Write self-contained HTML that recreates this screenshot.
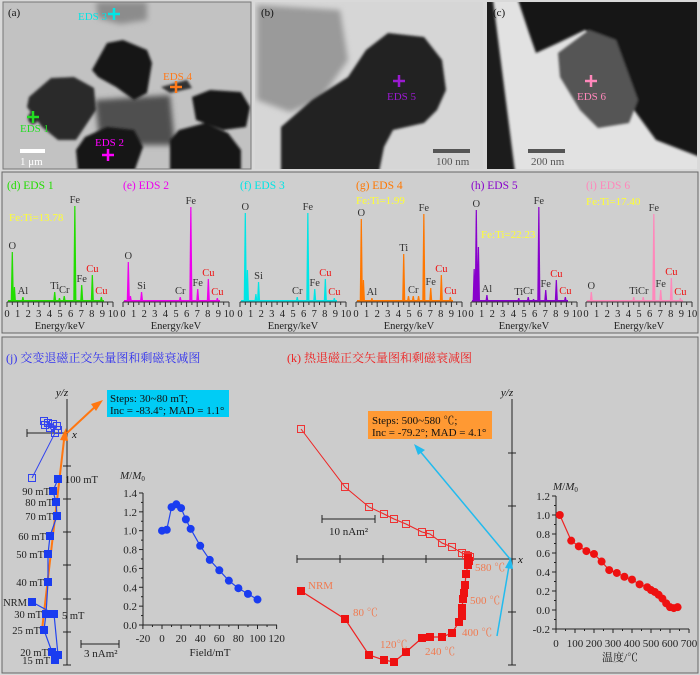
<!DOCTYPE html>
<html><head><meta charset="utf-8">
<style>
html,body{margin:0;padding:0;background:#d9d9d9;}
svg{display:block;font-family:"Liberation Serif","Noto Serif CJK SC","Noto Sans CJK SC",serif;}
</style></head>
<body>
<svg id="s" width="700" height="675" xmlns="http://www.w3.org/2000/svg">
<defs>
<filter id="bl" x="-10%" y="-10%" width="120%" height="120%"><feGaussianBlur stdDeviation="1.2"/></filter>
<filter id="bl2"><feGaussianBlur stdDeviation="3"/></filter>
<clipPath id="ca"><rect x="3" y="2" width="248" height="167"/></clipPath>
<clipPath id="cb"><rect x="255" y="2" width="228" height="167"/></clipPath>
<clipPath id="cc"><rect x="487" y="2" width="210" height="167"/></clipPath>
</defs>
<rect x="0" y="0" width="700" height="675" fill="#d9d9d9"/>
<!-- panel a -->
<g clip-path="url(#ca)">
<rect x="3" y="2" width="248" height="167" fill="#c2c2c2"/>
<g filter="url(#bl2)"><polygon points="96,2 147,2 147,20 120,24 98,18" fill="#8c8c8c"/>
<polygon points="95,100 170,95 175,145 100,145" fill="#505050"/></g>
<g filter="url(#bl)" fill="#141414">
<polygon points="29,97 51,78 74,77 94,88 96,110 76,140 58,140 42,127 27,107" fill="#2a2a2a"/>
<polygon points="92,70 107,43 123,40 147,50 152,63 147,93 134,100 116,87 98,77"/>
<polygon points="76,150 85,137 107,127 134,130 143,147 134,172 78,172"/>
<polygon points="170,140 179,130 205,123 228,133 241,150 241,172 170,172"/>
<polygon points="192,97 210,90 241,92 250,107 246,127 223,130 196,120"/>
<polygon points="161,87 187,80 192,88 170,93" fill="#333"/>
<ellipse cx="33" cy="118" rx="5" ry="6" fill="#2a2a2a"/>
</g>
</g>
<rect x="3" y="2" width="248" height="167" fill="none" stroke="#777" stroke-width="1"/>
<!-- panel b -->
<g clip-path="url(#cb)">
<rect x="255" y="2" width="228" height="167" fill="#d6d6d6"/>
<g filter="url(#bl2)"><polygon points="257,5 340,10 348,60 320,100 290,112 257,100" fill="#9a9a9a"/></g>
<g filter="url(#bl)"><polygon points="281,127 312,100 348,77 366,50 388,33 424,37 442,60 446,90 437,110 424,123 393,130 384,147 379,172 281,172" fill="#222"/></g>
</g>
<!-- panel c -->
<g clip-path="url(#cc)">
<rect x="487" y="2" width="210" height="167" fill="#e2e2e2"/>
<g filter="url(#bl)">
<polygon points="480,0 493,0 515,172 480,172" fill="#1a1a1a"/>
<polygon points="518,0 700,0 700,157 656,140 634,110 625,83 616,50 585,30 558,43 536,53 529,33" fill="#141414"/>
<polygon points="558,53 589,30 616,40 638,100 629,123 598,128 580,110 560,77" fill="#555"/>
</g>
</g>
<g id="g"></g>
</svg>
<script>
var o='';
function T(x,y,t,c,fs,a,extra){o+='<text x="'+x+'" y="'+y+'" fill="'+c+'" font-size="'+fs+'"'+(a?' text-anchor="'+a+'"':'')+(extra||'')+'>'+t+'</text>';}
function L(x1,y1,x2,y2,c,w){o+='<line x1="'+x1+'" y1="'+y1+'" x2="'+x2+'" y2="'+y2+'" stroke="'+c+'" stroke-width="'+(w||1)+'"/>';}
function P(pts,c,w){o+='<polyline points="'+pts.map(p=>p.join(',')).join(' ')+'" fill="none" stroke="'+c+'" stroke-width="'+(w||1)+'"/>';}
function plus(x,y,c){L(x-6,y,x+6,y,c,2.5);L(x,y-6,x,y+6,c,2.5);}
T(8,16,'(a)','#111',11);T(261,16,'(b)','#111',11);T(493,16,'(c)','#111',11);
plus(114,14,'#00e5e5');T(78,20,'EDS 3','#00e5e5',11);
plus(176,87,'#ff7a1a');T(163,80,'EDS 4','#ff7a1a',11);
plus(33,117,'#22dd22');T(20,132,'EDS 1','#22dd22',11);
plus(108,155,'#ff00ff');T(95,146,'EDS 2','#ff00ff',11);
plus(399,81,'#9a1ad0');T(387,100,'EDS 5','#9a1ad0',11);
plus(591,81,'#ff88bb');T(577,100,'EDS 6','#ff88bb',11);
o+='<rect x="20" y="149" width="25" height="4" fill="#fff"/>';T(20,165,'1 μm','#fff',11);
o+='<rect x="433" y="149" width="37" height="4" fill="#555"/>';T(436,165,'100 nm','#555',11);
o+='<rect x="528" y="149" width="37" height="4" fill="#555"/>';T(531,165,'200 nm','#555',11);
o+='<rect x="2" y="172" width="696" height="161" fill="#cfcfcf" stroke="#666"/>';
var specs=[
{x:7,c:'#22dd00',t:'(d) EDS 1',r:'Fe:Ti=13.78',rx:9,ry:221,p:[[0.5,50,'O'],[0.7,15],[1.5,5,'Al'],[4.5,10,'Ti'],[4.95,4],[5.4,6,'Cr'],[6.4,96,'Fe'],[7.05,17,'Fe'],[8.05,27,'Cu'],[8.9,5,'Cu']]},
{x:123,c:'#ee00ee',t:'(e) EDS 2',p:[[0.5,40,'O'],[0.7,6],[1.75,10,'Si'],[5.4,5,'Cr'],[6.4,95,'Fe'],[7.05,13,'Fe'],[8.05,23,'Cu'],[8.9,4,'Cu']]},
{x:240,c:'#00e5e5',t:'(f) EDS 3',p:[[0.5,89,'O'],[0.7,32],[1.75,20,'Si'],[1.5,8],[5.4,5,'Cr'],[6.4,89,'Fe'],[7.05,13,'Fe'],[8.05,23,'Cu'],[8.9,4,'Cu']]},
{x:356,c:'#ff7700',t:'(g) EDS 4',r:'Fe:Ti=1.99',rx:356,ry:204,p:[[0.5,83,'O'],[0.7,22],[1.5,4,'Al'],[4.5,48,'Ti'],[4.95,6],[5.4,6,'Cr'],[5.9,6],[6.4,88,'Fe'],[7.05,14,'Fe'],[8.05,27,'Cu'],[8.9,5,'Cu']]},
{x:471,c:'#8800cc',t:'(h) EDS 5',r:'Fe:Ti=22.23',rx:481,ry:238,p:[[0.3,33],[0.5,92,'O'],[0.7,55],[1.5,7,'Al'],[4.5,4,'Ti'],[5.4,5,'Cr'],[5.9,3],[6.4,95,'Fe'],[7.05,12,'Fe'],[8.05,22,'Cu'],[8.9,5,'Cu']]},
{x:586,c:'#ff88bb',t:'(i) EDS 6',r:'Fe:Ti=17.40',rx:586,ry:205,p:[[0.5,10,'O'],[4.5,5,'Ti'],[5.4,5,'Cr'],[6.4,88,'Fe'],[7.05,12,'Fe'],[8.05,24,'Cu'],[8.9,4,'Cu']]}];
var B=302,W=106;
specs.forEach(function(s){
 T(s.x,189,s.t,s.c,11.5);
 if(s.r)T(s.rx,s.ry,s.r,'#ffff33',11);
 o+='<rect x="'+(s.x+1)+'" y="'+(B-2)+'" width="'+(W-10)+'" height="2" fill="'+s.c+'"/>';
 s.p.forEach(function(p){var px=s.x+p[0]/10*W;
  o+='<polygon points="'+(px-1.6)+','+B+' '+(px-0.6)+','+(B-p[1])+' '+(px+0.6)+','+(B-p[1])+' '+(px+1.6)+','+B+'" fill="'+s.c+'"/>';
  if(p[2]){var col=p[2]=='Cu'?'#ee1111':'#333';T(px,B-p[1]-3,p[2],col,10.5,'middle');}
 });
 L(s.x,B,s.x+W,B,'#333',1);
 for(var k=0;k<=20;k++){var tx=s.x+k/20*W;L(tx,B,tx,B+(k%2?3:5),'#333',1);}
 for(var k=0;k<=10;k++){T(s.x+k/10*W,317,k,'#222',10.5,'middle');}
 T(s.x+W/2,329,'Energy/keV','#222',10.5,'middle');
});
o+='<rect x="2" y="337" width="696" height="336" fill="#cccccc" stroke="#666"/>';
T(6,362,'(j) 交变退磁正交矢量图和剩磁衰减图','#3333ee',12);
T(287,362,'(k) 热退磁正交矢量图和剩磁衰减图','#ee2222',12);
L(67,399,67,665,'#222');L(27,433,67,433,'#222');L(27,429,27,437,'#222');
[466,499,532,565,599,632,665].forEach(function(y){L(63,y,71,y,'#222');});
T(62,396,'y/z','#111',11,'middle',' font-style="italic"');T(72,438,'x','#111',11,null,' font-style="italic"');
var op=[[32,478],[55,433],[50,428],[57,426],[45,425],[53,424],[48,423],[58,430],[44,421]];
P(op,'#3344ee',1);op.forEach(function(p){o+='<rect x="'+(p[0]-3.5)+'" y="'+(p[1]-3.5)+'" width="7" height="7" fill="none" stroke="#3344ee"/>';});
L(42,630,64,440,'#ff7711',2);o+='<polygon points="60,440 66,428 68,441" fill="#ff7711"/>';
L(67,433,97,405,'#ff7711',2);o+='<polygon points="91,404 103,400 96,411" fill="#ff7711"/>';
var fp=[[32,602],[54,614],[58,655],[55,660],[52,652],[44,630],[46,614],[48,582],[48,554],[50,536],[57,516],[56,502],[53,491],[58,479]];
P(fp,'#2244ee',1.2);fp.forEach(function(p){o+='<rect x="'+(p[0]-4)+'" y="'+(p[1]-4)+'" width="8" height="8" fill="#1a3cf0"/>';});
[['100 mT',65,483,'start'],['90 mT',50,495,'end'],['80 mT',53,506,'end'],['70 mT',53,520,'end'],['60 mT',46,540,'end'],['50 mT',44,558,'end'],['40 mT',44,586,'end'],['NRM',27,606,'end'],['30 mT',42,618,'end'],['5 mT',62,619,'start'],['25 mT',40,634,'end'],['20 mT',48,656,'end'],['15 mT',50,664,'end']].forEach(function(l){T(l[1],l[2],l[0],'#222',10.5,l[3]);});
o+='<rect x="107" y="390" width="122" height="27" fill="#00ccf5"/>';
T(110,402,'Steps: 30~80 mT;','#111',11);T(110,414,'Inc = -83.4°; MAD = 1.1°','#111',11);
L(81,644,119,644,'#222');L(81,640,81,648,'#222');L(119,640,119,648,'#222');T(84,657,'3 nAm²','#222',11);
L(143,493,143,625,'#222');L(143,625,277,625,'#222');
for(var i=0;i<=7;i++){var y=625-i*18.86;L(139,y,143,y,'#222');T(137,y+4,(i*0.2).toFixed(1),'#222',11,'end');if(i<7)L(141,y-9.43,143,y-9.43,'#222');}
for(var f=-20;f<=120;f+=20){var x=162+f*0.955;L(x,625,x,629,'#222');T(x,642,f,'#222',11,'middle');if(f<120)L(x+9.55,625,x+9.55,627,'#222');}
T(210,656,'Field/mT','#222',11,'middle');
T(120,479,'<tspan font-style="italic">M</tspan>/<tspan font-style="italic">M</tspan><tspan font-size="7" dy="2">0</tspan>','#222',11);
var dj=[[0,1.0],[5,1.01],[10,1.25],[15,1.28],[20,1.24],[25,1.12],[30,1.02],[40,0.84],[50,0.69],[60,0.58],[70,0.47],[80,0.39],[90,0.33],[100,0.27]].map(p=>[162+p[0]*0.955,625-p[1]*94.3]);
P(dj,'#2244ee',1.2);dj.forEach(p=>{o+='<circle cx="'+p[0]+'" cy="'+p[1]+'" r="4" fill="#1a3cf0"/>';});
L(512,399,512,665,'#222');L(297,559,512,559,'#222');
[453,506,559,612,665].forEach(function(y){L(508,y,516,y,'#222');});
[297,340,383,426,469].forEach(function(x){L(x,555,x,563,'#222');});
T(507,396,'y/z','#111',11,'middle',' font-style="italic"');T(518,563,'x','#111',11,null,' font-style="italic"');
var ko=[[301,429],[345,487],[369,507],[384,514],[394,519],[406,524],[422,532],[430,534],[442,543],[452,547],[462,553],[466,555],[468,556],[470,557]];
P(ko,'#ee2222',1);ko.forEach(function(p){o+='<rect x="'+(p[0]-3.5)+'" y="'+(p[1]-3.5)+'" width="7" height="7" fill="none" stroke="#ee3333"/>';});
var kf=[[301,591],[345,619],[369,655],[384,660],[394,662],[406,652],[422,638],[430,637],[442,637],[452,633],[459,622],[462,616],[462,608],[463,599],[464,593],[465,585],[466,574],[468,565],[469,561],[468,558]];
P(kf,'#ee2222',1.2);kf.forEach(function(p){o+='<rect x="'+(p[0]-4)+'" y="'+(p[1]-4)+'" width="8" height="8" fill="#ee1111"/>';});
[['NRM',308,589],['80 ℃',353,616],['120℃',380,648],['240 ℃',425,655],['400 ℃',462,636],['500 ℃',470,604],['580 ℃',475,571]].forEach(function(l){T(l[1],l[2],l[0],'#f07a50',11);});
L(322,519,375,519,'#222');L(322,515,322,523,'#222');L(375,515,375,523,'#222');T(329,535,'10 nAm²','#222',11);
o+='<rect x="368" y="411" width="124" height="28" fill="#ff9933"/>';
T(372,424,'Steps: 500~580 ℃;','#111',11);T(372,436,'Inc = -79.2°; MAD = 4.1°','#111',11);
L(497,636,509,566,'#22bbee',1.5);o+='<polygon points="505,568 511,557 513,569" fill="#22bbee"/>';
L(510,559,419,450,'#22bbee',1.5);o+='<polygon points="414,444 425,450 418,455" fill="#22bbee"/>';
L(556,496,556,629,'#222');L(556,629,689,629,'#222');
for(var i=0;i<=7;i++){var v=-0.2+i*0.2,y=629-i*19;L(552,y,556,y,'#222');T(550,y+4,v.toFixed(1),'#222',11,'end');if(i<7)L(554,y-9.5,556,y-9.5,'#222');}
for(var t=0;t<=700;t+=100){var x=556+t*0.19;L(x,629,x,633,'#222');T(x,647,t,'#222',11,'middle');if(t<700)L(x+9.5,629,x+9.5,631,'#222');}
T(620,661,'温度/℃','#222',11,'middle');
T(553,490,'<tspan font-style="italic">M</tspan>/<tspan font-style="italic">M</tspan><tspan font-size="7" dy="2">0</tspan>','#222',11);
var dk=[[20,1.0],[80,0.73],[120,0.67],[160,0.62],[200,0.59],[240,0.51],[280,0.42],[320,0.39],[360,0.35],[400,0.32],[440,0.27],[480,0.24],[500,0.21],[520,0.19],[540,0.16],[560,0.12],[580,0.07],[600,0.03],[620,0.02],[640,0.03]].map(p=>[556+p[0]*0.19,610-p[1]*95]);
P(dk,'#ee2222',1.2);dk.forEach(p=>{o+='<circle cx="'+p[0]+'" cy="'+p[1]+'" r="4" fill="#ee1111"/>';});
document.getElementById('g').innerHTML=o;
</script>
</body></html>
